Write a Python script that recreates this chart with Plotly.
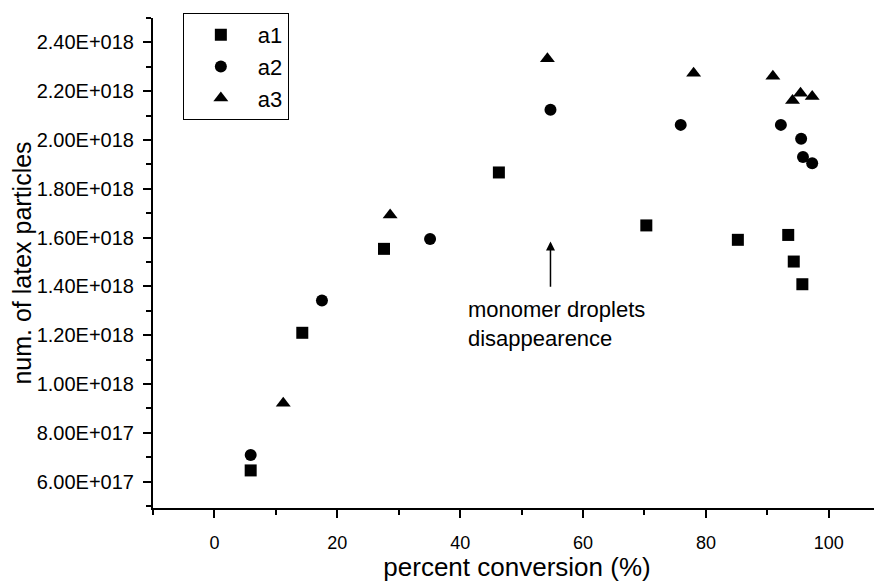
import plotly.graph_objects as go

# ---- data ----
a1_x = [5.9, 14.3, 27.6, 46.3, 70.3, 85.2, 93.4, 94.3, 95.7]
a1_y = [6.46e17, 1.21e18, 1.554e18, 1.867e18, 1.650e18, 1.591e18, 1.611e18, 1.502e18, 1.409e18]

a2_x = [5.9, 17.5, 35.1, 54.7, 75.9, 92.2, 95.5, 95.8, 97.3]
a2_y = [7.09e17, 1.342e18, 1.594e18, 2.124e18, 2.062e18, 2.062e18, 2.005e18, 1.930e18, 1.905e18]

a3_x = [11.2, 28.6, 54.2, 78.0, 90.9, 94.1, 95.4, 97.3]
a3_y = [9.21e17, 1.693e18, 2.333e18, 2.274e18, 2.261e18, 2.162e18, 2.192e18, 2.178e18]

y_tickvals = [6e17, 8e17, 1.0e18, 1.2e18, 1.4e18, 1.6e18, 1.8e18, 2.0e18, 2.2e18, 2.4e18]
y_ticktext = ["6.00E+017", "8.00E+017", "1.00E+018", "1.20E+018", "1.40E+018",
              "1.60E+018", "1.80E+018", "2.00E+018", "2.20E+018", "2.40E+018"]
x_tickvals = [0, 20, 40, 60, 80, 100]

arrow_x = 54.7
arrow_tip_y = 1.584e18
arrow_tail_y = 1.393e18
note_x = 40.9
note_y = 1.365e18
note_text = "monomer droplets<br>disappearence"

FONT = "Liberation Sans, Arial, sans-serif"

fig = go.Figure()
fig.add_trace(go.Scatter(x=a1_x, y=a1_y, mode="markers", name="a1",
                         marker=dict(symbol="square", size=12, color="black")))
fig.add_trace(go.Scatter(x=a2_x, y=a2_y, mode="markers", name="a2",
                         marker=dict(symbol="circle", size=12, color="black")))
fig.add_trace(go.Scatter(x=a3_x, y=a3_y, mode="markers", name="a3",
                         marker=dict(symbol="triangle-up", size=13, color="black")))

fig.add_annotation(x=arrow_x, y=arrow_tip_y, ax=arrow_x, ay=arrow_tail_y,
                   xref="x", yref="y", axref="x", ayref="y",
                   showarrow=True, arrowhead=2, arrowsize=1.2, arrowwidth=1.5,
                   arrowcolor="black", text="")
fig.add_annotation(x=note_x, y=note_y, xref="x", yref="y", text=note_text,
                   showarrow=False, xanchor="left", yanchor="top", align="left",
                   font=dict(family=FONT, size=22, color="black"))

# page body has an 8px default margin, so the figure is drawn 8px smaller
fig.update_layout(
    width=874, height=574,
    margin=dict(l=145, r=1, t=10, b=74),
    paper_bgcolor="white", plot_bgcolor="white",
    font=dict(family=FONT, color="black"),
    showlegend=True,
    legend=dict(x=0.041, y=1.0102, xanchor="left", yanchor="top",
                bordercolor="black", borderwidth=1, bgcolor="white",
                font=dict(family=FONT, size=22, color="black"),
                itemwidth=64),
)
fig.update_xaxes(
    range=[-10, 108.5], showgrid=False, zeroline=False, automargin=False,
    showline=True, linecolor="black", linewidth=1.5,
    ticks="outside", ticklen=8, tickwidth=1.5, tickcolor="black",
    tickmode="array", tickvals=x_tickvals,
    tickfont=dict(family=FONT, size=18, color="black"),
    ticklabelstandoff=10,
    minor=dict(ticks="outside", ticklen=5, tickwidth=1.5, tickcolor="black",
               tickmode="linear", tick0=-10, dtick=10),
    title=dict(text="percent conversion (%)", font=dict(family=FONT, size=26, color="black"),
               standoff=11),
)
fig.update_yaxes(
    range=[4.92e17, 2.5e18], showgrid=False, zeroline=False, automargin=False,
    showline=True, linecolor="black", linewidth=2,
    ticks="outside", ticklen=8, tickwidth=1.5, tickcolor="black",
    tickmode="array", tickvals=y_tickvals, ticktext=y_ticktext,
    tickfont=dict(family=FONT, size=20, color="black"),
    ticklabelstandoff=5,
    minor=dict(ticks="outside", ticklen=5, tickwidth=1.5, tickcolor="black",
               tickmode="linear", tick0=5e17, dtick=1e17),
    title=dict(text="num. of latex particles", font=dict(family=FONT, size=25, color="black"),
               standoff=2),
)

fig.write_html("out.html")
